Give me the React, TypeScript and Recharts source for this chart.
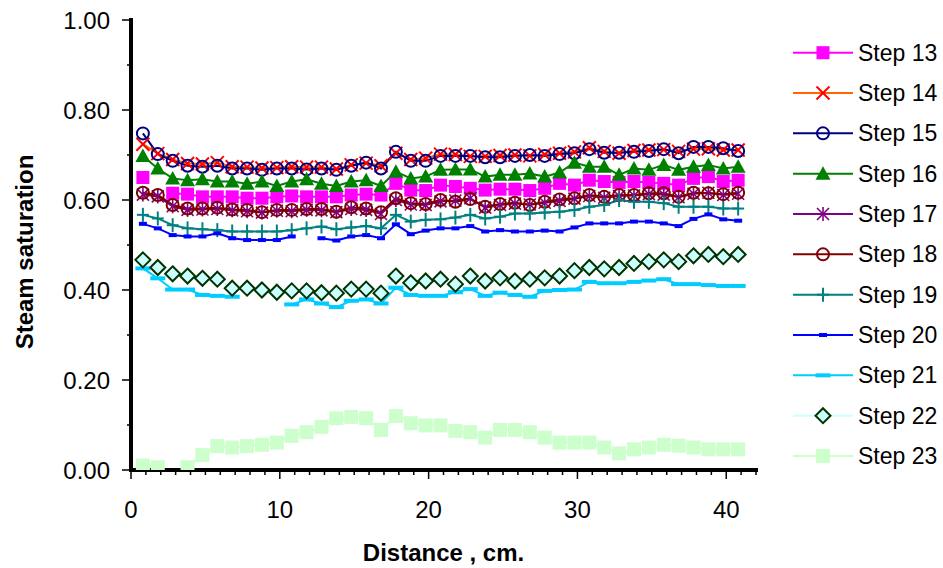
import React from 'react';
import { LineChart, Line, XAxis, YAxis, Legend } from 'recharts';

const distance = [0.8, 1.8, 2.8, 3.8, 4.8, 5.8, 6.8, 7.8, 8.8, 9.8, 10.8, 11.8, 12.8, 13.8, 14.8, 15.8, 16.8, 17.8, 18.8, 19.8, 20.8, 21.8, 22.8, 23.8, 24.8, 25.8, 26.8, 27.8, 28.8, 29.8, 30.8, 31.8, 32.8, 33.8, 34.8, 35.8, 36.8, 37.8, 38.8, 39.8, 40.8];

const step13 = [0.650, null, 0.615, 0.613, 0.607, 0.607, 0.607, 0.604, 0.604, 0.607, 0.609, 0.607, 0.607, 0.607, 0.611, 0.613, 0.611, 0.637, 0.622, 0.621, 0.633, 0.630, 0.626, 0.622, 0.624, 0.624, 0.621, 0.626, 0.637, 0.633, 0.644, 0.641, 0.639, 0.641, 0.639, 0.637, 0.633, 0.648, 0.652, 0.641, 0.644];
const step14 = [0.724, 0.703, 0.690, 0.681, 0.680, 0.683, 0.674, 0.673, 0.671, 0.672, 0.674, 0.673, 0.673, 0.669, 0.678, 0.682, 0.676, 0.704, 0.690, 0.693, 0.702, 0.701, 0.697, 0.697, 0.699, 0.700, 0.698, 0.701, 0.704, 0.707, 0.716, 0.708, 0.704, 0.710, 0.711, 0.712, 0.708, 0.713, 0.714, 0.711, 0.711];
const step15 = [0.748, 0.702, 0.687, 0.676, 0.674, 0.676, 0.670, 0.670, 0.667, 0.670, 0.670, 0.668, 0.670, 0.667, 0.676, 0.683, 0.670, 0.707, 0.687, 0.687, 0.698, 0.698, 0.698, 0.695, 0.695, 0.698, 0.700, 0.698, 0.702, 0.704, 0.713, 0.705, 0.705, 0.707, 0.709, 0.713, 0.704, 0.718, 0.718, 0.715, 0.709];
const step16 = [0.698, 0.670, 0.648, 0.644, 0.646, 0.641, 0.641, 0.636, 0.641, 0.631, 0.641, 0.646, 0.636, 0.631, 0.641, 0.644, 0.631, 0.663, 0.648, 0.652, 0.667, 0.668, 0.668, 0.652, 0.656, 0.656, 0.659, 0.652, 0.661, 0.683, 0.674, 0.674, 0.656, 0.670, 0.667, 0.678, 0.667, 0.674, 0.678, 0.670, 0.674];
const step17 = [0.612, 0.608, 0.586, 0.578, 0.579, 0.580, 0.577, 0.575, 0.572, 0.576, 0.575, 0.578, 0.577, 0.573, 0.580, 0.578, 0.569, 0.600, 0.590, 0.589, 0.597, 0.599, 0.604, 0.583, 0.589, 0.592, 0.590, 0.594, 0.598, 0.603, 0.609, 0.605, 0.609, 0.610, 0.613, 0.612, 0.606, 0.614, 0.616, 0.611, 0.614];
const step18 = [0.616, 0.611, 0.589, 0.581, 0.581, 0.583, 0.579, 0.578, 0.573, 0.578, 0.578, 0.580, 0.580, 0.574, 0.584, 0.581, 0.573, 0.604, 0.593, 0.591, 0.600, 0.596, 0.602, 0.585, 0.591, 0.594, 0.589, 0.596, 0.601, 0.604, 0.611, 0.607, 0.611, 0.611, 0.615, 0.615, 0.607, 0.616, 0.615, 0.613, 0.616];
const step19 = [0.567, 0.559, 0.544, 0.537, 0.535, 0.533, 0.530, 0.530, 0.530, 0.530, 0.533, 0.537, 0.541, 0.535, 0.539, 0.542, 0.537, 0.567, 0.552, 0.556, 0.557, 0.561, 0.567, 0.559, 0.563, 0.570, 0.570, 0.572, 0.574, 0.578, 0.585, 0.589, 0.600, 0.596, 0.596, 0.593, 0.585, 0.585, 0.585, 0.581, 0.581];
const step20 = [0.547, 0.537, 0.522, 0.519, 0.519, 0.526, 0.515, 0.511, 0.511, 0.511, 0.519, null, 0.515, 0.510, 0.519, 0.522, 0.515, 0.546, 0.524, 0.532, 0.537, 0.537, 0.542, 0.530, 0.533, 0.530, 0.530, 0.532, 0.530, 0.539, 0.548, 0.548, 0.548, 0.552, 0.552, 0.548, 0.542, 0.558, 0.568, 0.557, 0.554];
const step21 = [0.448, 0.426, 0.401, 0.401, 0.389, 0.387, 0.385, null, null, null, 0.368, 0.379, 0.370, 0.362, 0.376, 0.379, 0.370, 0.405, 0.389, 0.387, 0.387, 0.395, 0.402, 0.387, 0.394, 0.389, 0.385, 0.398, 0.400, 0.401, 0.418, 0.415, 0.415, 0.418, 0.421, 0.424, 0.413, 0.413, 0.411, 0.409, 0.409];
const step22 = [0.467, 0.450, 0.436, 0.431, 0.426, 0.424, 0.404, 0.404, 0.400, 0.395, 0.398, 0.398, 0.394, 0.393, 0.402, 0.402, 0.393, 0.431, 0.416, 0.420, 0.424, 0.413, 0.431, 0.420, 0.427, 0.420, 0.424, 0.427, 0.431, 0.443, 0.450, 0.447, 0.450, 0.459, 0.463, 0.467, 0.463, 0.476, 0.479, 0.474, 0.479];
const step23 = [0.010, 0.006, -0.030, 0.006, 0.033, 0.053, 0.050, 0.053, 0.056, 0.061, 0.076, 0.084, 0.096, 0.115, 0.118, 0.115, 0.089, 0.120, 0.104, 0.099, 0.099, 0.087, 0.084, 0.072, 0.089, 0.089, 0.084, 0.072, 0.061, 0.061, 0.061, 0.050, 0.037, 0.046, 0.050, 0.056, 0.054, 0.050, 0.046, 0.046, 0.046];

const xTicks = [0, 1, 2, 3, 4, 5, 6, 7, 8, 9, 10, 11, 12, 13, 14, 15, 16, 17, 18, 19, 20, 21, 22, 23, 24, 25, 26, 27, 28, 29, 30, 31, 32, 33, 34, 35, 36, 37, 38, 39, 40, 41, 42];
const xLabels = [0, 10, 20, 30, 40];
const yTicks = [0, 0.1, 0.2, 0.3, 0.4, 0.5, 0.6, 0.7, 0.8, 0.9, 1];
const yLabels = [0, 0.2, 0.4, 0.6, 0.8, 1];

type Shape = 'square' | 'x' | 'circle' | 'triangle' | 'asterisk' | 'plus' | 'dashS' | 'dashL' | 'diamond' | 'square2';

const series: { key: string; name: string; values: (number | null)[]; line: string; shape: Shape; fill: string; stroke: string }[] = [
  { key: 's13', name: 'Step 13', values: step13, line: '#FF00FF', shape: 'square', fill: '#FF00FF', stroke: 'none' },
  { key: 's14', name: 'Step 14', values: step14, line: '#FF6600', shape: 'x', fill: 'none', stroke: '#FF0000' },
  { key: 's15', name: 'Step 15', values: step15, line: '#000080', shape: 'circle', fill: 'none', stroke: '#000080' },
  { key: 's16', name: 'Step 16', values: step16, line: '#008000', shape: 'triangle', fill: '#008000', stroke: 'none' },
  { key: 's17', name: 'Step 17', values: step17, line: '#800080', shape: 'asterisk', fill: 'none', stroke: '#800080' },
  { key: 's18', name: 'Step 18', values: step18, line: '#800000', shape: 'circle', fill: 'none', stroke: '#800000' },
  { key: 's19', name: 'Step 19', values: step19, line: '#008080', shape: 'plus', fill: 'none', stroke: '#008080' },
  { key: 's20', name: 'Step 20', values: step20, line: '#0000FF', shape: 'dashS', fill: '#0000FF', stroke: 'none' },
  { key: 's21', name: 'Step 21', values: step21, line: '#00CCFF', shape: 'dashL', fill: '#00CCFF', stroke: 'none' },
  { key: 's22', name: 'Step 22', values: step22, line: '#CCFFFF', shape: 'diamond', fill: '#CCFFFF', stroke: '#003300' },
  { key: 's23', name: 'Step 23', values: step23, line: '#CCFFCC', shape: 'square2', fill: '#CCFFCC', stroke: 'none' },
];

const data = distance.map((d, i) => {
  const row: Record<string, number | null> = { x: d };
  series.forEach((s) => {
    row[s.key] = s.values[i];
  });
  return row;
});

const FONT = '"Liberation Sans", Arial, sans-serif';

function marker(shape: Shape, cx: number, cy: number, fill: string, stroke: string, k: string) {
  switch (shape) {
    case 'square':
      return <rect key={k} x={cx - 6.5} y={cy - 6.5} width={13} height={13} fill={fill} />;
    case 'square2':
      return <rect key={k} x={cx - 7} y={cy - 7} width={14} height={14} fill={fill} />;
    case 'x':
      return (
        <g key={k} stroke={stroke} strokeWidth={2}>
          <line x1={cx - 6.5} y1={cy - 6.5} x2={cx + 6.5} y2={cy + 6.5} />
          <line x1={cx - 6.5} y1={cy + 6.5} x2={cx + 6.5} y2={cy - 6.5} />
        </g>
      );
    case 'circle':
      return <circle key={k} cx={cx} cy={cy} r={6} fill="none" stroke={stroke} strokeWidth={2} />;
    case 'triangle':
      return <polygon key={k} points={`${cx},${cy - 7.5} ${cx - 7.5},${cy + 6} ${cx + 7.5},${cy + 6}`} fill={fill} />;
    case 'asterisk':
      return (
        <g key={k} stroke={stroke} strokeWidth={1.6}>
          <line x1={cx} y1={cy - 7} x2={cx} y2={cy + 7} />
          <line x1={cx - 6} y1={cy - 6} x2={cx + 6} y2={cy + 6} />
          <line x1={cx - 6} y1={cy + 6} x2={cx + 6} y2={cy - 6} />
        </g>
      );
    case 'plus':
      return (
        <g key={k} stroke={stroke} strokeWidth={2}>
          <line x1={cx} y1={cy - 7} x2={cx} y2={cy + 7} />
          <line x1={cx - 6} y1={cy} x2={cx + 6} y2={cy} />
        </g>
      );
    case 'dashS':
      return <rect key={k} x={cx - 4} y={cy - 2} width={8} height={4} fill={fill} />;
    case 'dashL':
      return <rect key={k} x={cx - 7.5} y={cy - 2} width={15} height={4} fill={fill} />;
    case 'diamond':
      return <polygon key={k} points={`${cx},${cy - 7.5} ${cx + 7.5},${cy} ${cx},${cy + 7.5} ${cx - 7.5},${cy}`} fill={fill} stroke={stroke} strokeWidth={2} />;
  }
  return <g key={k} />;
}

const XTick = (props: any) => {
  const { x, y, payload } = props;
  const v = payload.value as number;
  const major = v % 10 === 0;
  return (
    <g>
      <line x1={x} y1={y} x2={x} y2={y + (major ? 9 : 5)} stroke="#000" strokeWidth={1.5} />
      {xLabels.includes(v) && (
        <text x={x} y={y + 48} textAnchor="middle" fontFamily={FONT} fontSize={24} fill="#000">
          {String(v)}
        </text>
      )}
    </g>
  );
};

const YTick = (props: any) => {
  const { x, y, payload } = props;
  const v = payload.value as number;
  const major = yLabels.some((l) => Math.abs(l - v) < 1e-6);
  return (
    <g>
      <line x1={x - (major ? 9 : 4)} y1={y} x2={x} y2={y} stroke="#000" strokeWidth={1.5} />
      {major && (
        <text x={x - 21} y={y + 8.6} textAnchor="end" fontFamily={FONT} fontSize={24} fill="#000">
          {v.toFixed(2)}
        </text>
      )}
    </g>
  );
};

const LegendContent = () => (
  <svg width={163} height={440} style={{ display: 'block' }}>
    {series.map((s, i) => {
      const y = 22.7 + i * 40.33;
      return (
        <g key={s.key}>
          <line x1={13} y1={y} x2={73} y2={y} stroke={s.line} strokeWidth={2} />
          {marker(s.shape, 43, y, s.fill, s.stroke, 'lm' + s.key)}
          <text x={78} y={y + 8} fontFamily={FONT} fontSize={23} fill="#000">
            {s.name}
          </text>
        </g>
      );
    })}
  </svg>
);

export default function App() {
  return (
    <div style={{ position: 'absolute', left: 0, top: 0, width: 943, height: 568, background: '#fff' }}>
      <LineChart width={943} height={568} data={data} margin={{ top: 20, right: 187, left: 0, bottom: 0 }}>
        <XAxis
          dataKey="x"
          type="number"
          domain={[0, 42]}
          ticks={xTicks}
          interval={0}
          tickSize={0}
          tickMargin={0}
          tickLine={false}
          tick={<XTick />}
          height={98}
          axisLine={{ stroke: '#000', strokeWidth: 4, strokeLinecap: 'square' }}
          allowDataOverflow
        />
        <XAxis
          xAxisId="top"
          orientation="top"
          type="number"
          domain={[0, 42]}
          height={0}
          tick={false}
          tickLine={false}
          axisLine={{ stroke: '#000', strokeWidth: 3, strokeLinecap: 'square' }}
        />
        <YAxis
          type="number"
          domain={[0, 1]}
          ticks={yTicks}
          interval={0}
          tickSize={0}
          tickMargin={0}
          tickLine={false}
          tick={<YTick />}
          width={131}
          axisLine={{ stroke: '#000', strokeWidth: 4, strokeLinecap: 'square' }}
          allowDataOverflow
        />
        <YAxis
          yAxisId="right"
          orientation="right"
          type="number"
          domain={[0, 1]}
          width={0}
          tick={false}
          tickLine={false}
          axisLine={{ stroke: '#000', strokeWidth: 3, strokeLinecap: 'square' }}
        />
        <Legend
          layout="vertical"
          align="center"
          verticalAlign="middle"
          wrapperStyle={{ left: 780, top: 30, width: 163, height: 440 }}
          content={() => <LegendContent />}
        />
        {series.map((s) => (
          <Line
            key={s.key}
            dataKey={s.key}
            name={s.name}
            type="linear"
            stroke={s.line}
            strokeWidth={2}
            isAnimationActive={false}
            connectNulls={false}
            dot={(p: any) => {
              const k = `${s.key}-${p.index}`;
              if (p.cx == null || p.cy == null || p.value == null || Number.isNaN(p.cy)) return <g key={k} />;
              return marker(s.shape, p.cx, p.cy, s.fill, s.stroke, k);
            }}
            activeDot={false}
          />
        ))}
        <text x={443.5} y={561} textAnchor="middle" fontFamily={FONT} fontSize={24} fontWeight="bold" fill="#000">
          Distance , cm.
        </text>
        <text
          x={33}
          y={252}
          transform="rotate(-90 33 252)"
          textAnchor="middle"
          fontFamily={FONT}
          fontSize={24}
          fontWeight="bold"
          fill="#000"
        >
          Steam saturation
        </text>
      </LineChart>
    </div>
  );
}
